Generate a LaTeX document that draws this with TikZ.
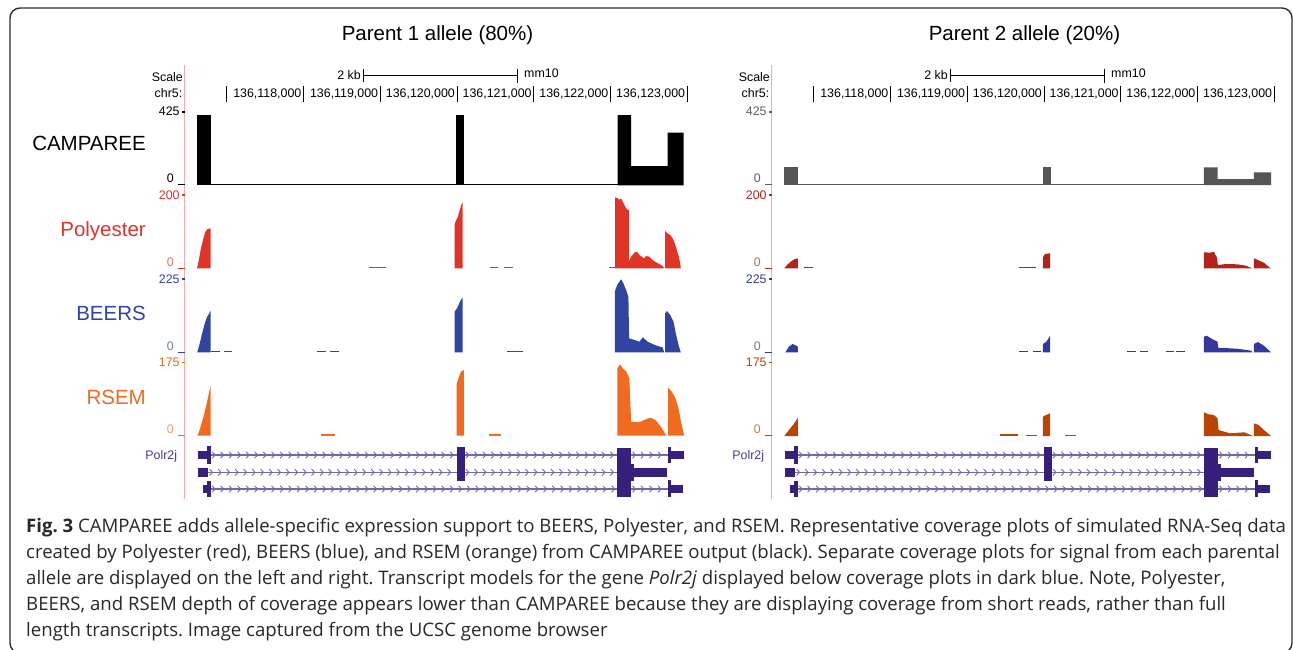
\documentclass[tikz,border=0pt]{standalone}
\usepackage{fontspec}
\setmainfont{Liberation Sans}
\newfontfamily\captionfont{Open Sans}
\usetikzlibrary{positioning,decorations.markings}
\definecolor{framegray}{RGB}{45,45,45}
\definecolor{pinkline}{RGB}{244,172,172}
\definecolor{campgray}{RGB}{85,85,85}
\definecolor{axisgray}{RGB}{95,95,95}
\definecolor{polyred}{RGB}{224,52,39}
\definecolor{polydark}{RGB}{178,36,26}
\definecolor{beersblue}{RGB}{47,69,160}
\definecolor{beersdark}{RGB}{51,57,154}
\definecolor{rsemorange}{RGB}{240,106,32}
\definecolor{rsemdark}{RGB}{184,70,0}
\definecolor{genepurple}{RGB}{55,32,124}
\definecolor{intronpurple}{RGB}{112,104,176}
\definecolor{genelabel}{RGB}{70,60,150}
\definecolor{captiongray}{RGB}{40,40,40}

\tikzset{
  ruler/.style={font=\fontsize{12.4}{14}\selectfont, inner sep=0pt},
  axislabel/.style={font=\fontsize{12.4}{14}\selectfont, inner sep=0pt, anchor=base east},
  tracklabel/.style={font=\fontsize{20.5}{24}\selectfont, inner sep=0pt, anchor=base east},
  paneltitle/.style={font=\fontsize{20.5}{24}\selectfont, inner sep=0pt, anchor=base},
  exon/.style={fill=genepurple},
  intron/.style={draw=intronpurple, line width=1.3pt,
    postaction={decorate, decoration={markings,
      mark=between positions 3pt and -2pt step 8.5pt with
        {\draw[intronpurple, line width=0.9pt] (-1.6,-3.2) -- (1.4,0) -- (-1.6,3.2);}}}},
}

% ruler, axes and gene models of one browser panel
\newcommand{\browserpanel}[6]{%
\begin{scope}[xshift=#2]
  \draw[pinkline, line width=1pt] (184.6,65) -- (184.6,499);
  \node[ruler, anchor=base east] (scale#1) at (183,81) {Scale};
  \node[ruler, anchor=base east] (chr#1) at (182.5,97.7) {chr5:};
  % scale bar
  \draw[line width=0.8pt] (363,75) -- (517.5,75);
  \draw[line width=0.8pt] (363,68.5) -- (363,82);
  \draw[line width=0.8pt] (517.5,68.5) -- (517.5,83);
  \node[ruler, anchor=base east] (kb#1) at (361,79.4) {2 kb};
  \node[ruler, anchor=base west] (mm#1) at (524,77.7) {mm10};
  % chromosome positions
  \foreach \i in {0,...,6}
    \draw[line width=0.8pt] ({226.8+76.75*\i},86) -- ({226.8+76.75*\i},101.7);
  \foreach \i in {1,...,6}{
    \pgfmathtruncatemacro{\kb}{117+\i}
    \node[ruler, anchor=base east] (pos\i#1) at ({226.8+76.75*\i-2},97.7) {136,\kb,000};
  }
  % axis labels
  \node[axislabel, text=#3] (campmax#1) at (179.8,115.9) {425};
  \draw[#3, line width=1.3pt] (182,112) -- (184.6,112);
  \node[axislabel, text=#3] (campmin#1) at (174,182.4) {0};
  \draw[#3, line width=1pt] (177.5,184) -- (184.6,184);
  \node[axislabel, text=#4] (polymax#1) at (179.8,199.4) {200};
  \draw[#4, line width=1.3pt] (182,195) -- (184.6,195);
  \node[axislabel, text=#4!70] (polymin#1) at (174,266.4) {0};
  \draw[#4, line width=1pt] (177.5,268.3) -- (184.6,268.3);
  \node[axislabel, text=#5] (beersmax#1) at (179.8,283.4) {225};
  \draw[#5, line width=1.3pt] (182,279) -- (184.6,279);
  \node[axislabel, text=#5!70] (beersmin#1) at (174,350.4) {0};
  \draw[#5, line width=1pt] (177.5,352.3) -- (184.6,352.3);
  \node[axislabel, text=#6] (rsemmax#1) at (179.8,366.9) {175};
  \draw[#6, line width=1.3pt] (182,362.5) -- (184.6,362.5);
  \node[axislabel, text=#6!70] (rsemmin#1) at (174,433.4) {0};
  \draw[#6, line width=1pt] (177.5,435.7) -- (184.6,435.7);
  % gene models
  \node[ruler, anchor=base east, text=genelabel] (gene#1) at (177.3,459.4) {Polr2j};
  \draw[intron] (210.7,455) -- (456.5,455);
  \draw[intron] (464.5,455) -- (617.3,455);
  \draw[intron] (631.1,455) -- (668.2,455);
  \draw[intron] (208.2,472.3) -- (456.5,472.3);
  \draw[intron] (464.5,472.3) -- (617.3,472.3);
  \draw[intron] (210.7,489) -- (617.3,489);
  \draw[intron] (631.1,489) -- (668.2,489);
  \fill[exon] (198.4,451) rectangle (208.2,459);
  \fill[exon] (207.1,445.7) rectangle (210.7,464.3);
  \fill[exon] (198.4,467.8) rectangle (208.2,476.8);
  \fill[exon] (202.7,485) rectangle (208.2,493);
  \fill[exon] (207.1,480.7) rectangle (210.7,497);
  \fill[exon] (456.5,446.7) rectangle (464.5,481);
  \fill[exon] (617.3,447.7) rectangle (631.1,496.7);
  \fill[exon] (631.1,463.5) rectangle (633.6,481);
  \fill[exon] (633.6,468.3) rectangle (666.7,476.7);
  \fill[exon] (668.2,446.7) rectangle (671.1,463.3);
  \fill[exon] (671.1,451) rectangle (684.2,459);
  \fill[exon] (668.2,480.3) rectangle (671.1,496.7);
  \fill[exon] (671.1,485) rectangle (682.7,493);
\end{scope}}

\begin{document}
\begin{tikzpicture}[x=1pt,y=-1pt]
\useasboundingbox (0,0) rectangle (1293,649);
\fill[white] (0,0) rectangle (1293,649);
\draw[framegray, line width=1.4pt, rounded corners=10pt] (10,8) rectangle (1292,653);

% panel titles
\node[paneltitle] (title1) at (437.5,40.5) {Parent 1 allele (80\%)};
\node[paneltitle] (title2) at (1024.5,40.5) {Parent 2 allele (20\%)};

% track names
\node[tracklabel] (campname) at (146,150.5) {CAMPAREE};
\node[tracklabel, text=polyred] (polyname) at (146,236.5) {Polyester};
\node[tracklabel, text=beersblue] (beersname) at (146,320.5) {BEERS};
\node[tracklabel, text=rsemorange] (rsemname) at (146,404.5) {RSEM};

\browserpanel{L}{0pt}{black}{polyred}{beersblue}{rsemorange}
\browserpanel{R}{587pt}{axisgray}{polydark}{beersdark}{rsemdark}

% parent 1: CAMPAREE
\fill[black] (197.1,185.3) rectangle (210.7,115);
\fill[black] (456.4,185.3) rectangle (463.9,115);
\fill[black] (617.5,185.3) -- (617.5,115) -- (631.1,115) -- (631.1,166) -- (667.5,166)
  -- (667.5,132.7) -- (683.6,132.7) -- (683.6,185.3) -- cycle;
\draw[black, line width=1.3pt] (210.7,184.3) -- (617.5,184.3);

% parent 1: Polyester
\fill[polyred] (197.2,268.3) -- (197.2,267.3) -- (198.9,260) -- (200.6,250) -- (202.2,243.3)
  -- (203.9,236.7) -- (205.5,231.7) -- (207.2,229.3) -- (210.5,228.3) -- (210.5,268.3) -- cycle;
\fill[polyred] (369,266.8) rectangle (385.6,268.3);
\fill[polyred] (454.6,268.3) -- (454.6,225) -- (455.9,220.7) -- (457.9,216.7) -- (459.6,210.7)
  -- (461.3,205) -- (462.6,202.3) -- (462.6,268.3) -- cycle;
\fill[polyred] (489.5,266.8) rectangle (498.4,268.3);
\fill[polyred] (504.4,266.8) rectangle (513.3,268.3);
\fill[polyred] (608.9,266.8) rectangle (615.2,268.3);
\fill[polyred] (615.2,268.3) -- (615.2,197.3) -- (617.8,198.3) -- (619.5,200) -- (621.1,198.3)
  -- (622.8,201.7) -- (624.4,205) -- (626.1,208.3) -- (627.8,210) -- (628.8,210) -- (628.8,261.7)
  -- (631.1,256.7) -- (634.4,252.7) -- (637,251.7) -- (639.4,255) -- (641.7,256.7) -- (644.3,258.3)
  -- (646,256) -- (649.3,256.7) -- (652.6,260) -- (655,261.7) -- (659.3,264) -- (662.6,266)
  -- (664.2,268.3) -- cycle;
\fill[polyred] (665.2,268.3) -- (665.2,231) -- (667.5,233.3) -- (670.2,235) -- (672.6,238.3)
  -- (674.8,243.3) -- (676.8,250) -- (678.8,256.7) -- (680.2,263.3) -- (680.8,268.3) -- cycle;

% parent 1: BEERS
\fill[beersblue] (197.2,352.3) -- (198.9,346.7) -- (200.6,340) -- (202.2,333.3) -- (203.9,326.7)
  -- (205.5,321) -- (207.2,316.7) -- (208.9,314) -- (210.5,311) -- (210.5,352.3) -- cycle;
\fill[beersblue] (210.5,350.8) rectangle (219.8,352.3);
\fill[beersblue] (224,350.8) rectangle (232.4,352.3);
\fill[beersblue] (317.3,350.8) rectangle (326.3,352.3);
\fill[beersblue] (330.2,350.8) rectangle (339.2,352.3);
\fill[beersblue] (506.7,350.8) rectangle (523.3,352.3);
\fill[beersblue] (454.6,352.3) -- (454.6,311.7) -- (457,308.3) -- (459.3,303.3) -- (461.3,299.3)
  -- (462.6,297.7) -- (462.6,352.3) -- cycle;
\fill[beersblue] (614.8,352.3) -- (614.8,291.7) -- (617.1,285) -- (619.5,281.7) -- (621.1,279.3)
  -- (623.4,283.3) -- (626.1,290) -- (628.4,296.7) -- (629.1,338.3) -- (634.4,340) -- (639.4,341.7)
  -- (642.7,337.3) -- (647.7,341.7) -- (652.6,344) -- (657.6,346) -- (662.6,347.3) -- (664.2,352.3) -- cycle;
\fill[beersblue] (665.2,352.3) -- (665.2,313.3) -- (666.9,311) -- (670.2,315) -- (673.5,321.7)
  -- (675.8,333.3) -- (678.5,345) -- (680.8,352.3) -- cycle;

% parent 1: RSEM
\fill[rsemorange] (197.3,435.7) -- (199.1,431.7) -- (201.6,423.3) -- (204.5,413.3) -- (207.1,401.7)
  -- (209.3,391.7) -- (210.7,386) -- (210.7,435.7) -- cycle;
\fill[rsemorange] (320.9,433.7) rectangle (334.7,435.7);
\fill[rsemorange] (456.5,435.7) -- (456.5,385) -- (458.4,378.3) -- (460.9,371.7) -- (463.8,370)
  -- (463.8,435.7) -- cycle;
\fill[rsemorange] (489.3,434.2) rectangle (500.9,435.7);
\fill[rsemorange] (617.3,435.7) -- (617.3,368.3) -- (620.2,364.3) -- (622.7,368.3) -- (626.4,371.7)
  -- (629.3,378.3) -- (631.1,421.7) -- (639.1,422.3) -- (646.4,419) -- (650.7,417.7) -- (655.5,420)
  -- (660.9,426.7) -- (666.4,435.7) -- cycle;
\fill[rsemorange] (668.2,435.7) -- (668.2,387.7) -- (671.8,391.7) -- (675.5,398.3) -- (678.5,408.3)
  -- (681,421.7) -- (684.2,435.7) -- cycle;

% parent 2: CAMPAREE
\fill[campgray] (784.3,185) rectangle (797.9,167.3);
\fill[campgray] (1042.9,185) rectangle (1051,167.3);
\fill[campgray] (1203.9,185) -- (1203.9,167.3) -- (1217.5,167.3) -- (1217.5,179) -- (1253.9,179)
  -- (1253.9,172.3) -- (1271,172.3) -- (1271,185) -- cycle;
\draw[campgray, line width=1.3pt] (797.9,184.3) -- (1203.9,184.3);

% parent 2: Polyester
\fill[polydark] (784.3,268.3) -- (787.1,265) -- (790.7,261.7) -- (794.3,259.3) -- (797.9,258.3)
  -- (797.9,268.3) -- cycle;
\fill[polydark] (804,266.8) rectangle (812.9,268.3);
\fill[polydark] (1018.6,266.8) rectangle (1036.1,268.3);
\fill[polydark] (1042.9,268.3) -- (1042.9,257.3) -- (1045,254) -- (1050,253.3) -- (1050,268.3) -- cycle;
\fill[polydark] (1203.9,268.3) -- (1203.9,252.3) -- (1210.4,252.7) -- (1213.9,251.7) -- (1216.8,257.3)
  -- (1217.9,265) -- (1226.4,264) -- (1237.1,264.3) -- (1246.1,265.7) -- (1252.1,268.3) -- cycle;
\fill[polydark] (1253.9,268.3) -- (1253.9,258.3) -- (1257.9,260) -- (1263.9,262.7) -- (1269.3,267.3)
  -- (1271,268.3) -- cycle;

% parent 2: BEERS
\fill[beersdark] (785.4,352.3) -- (788.9,346.7) -- (792.5,344) -- (795,345) -- (797.9,346.7)
  -- (797.9,352.3) -- cycle;
\fill[beersdark] (1018.6,350.8) rectangle (1028.2,352.3);
\fill[beersdark] (1032.5,350.8) rectangle (1040.7,352.3);
\fill[beersdark] (1042.9,352.3) -- (1042.9,344) -- (1046.4,341.7) -- (1050,336) -- (1050,352.3) -- cycle;
\fill[beersdark] (1127,350.8) rectangle (1136.4,352.3);
\fill[beersdark] (1140,350.8) rectangle (1147.9,352.3);
\fill[beersdark] (1166.4,350.8) rectangle (1173.9,352.3);
\fill[beersdark] (1176.4,350.8) rectangle (1184.6,352.3);
\fill[beersdark] (1203.9,352.3) -- (1203.9,336.7) -- (1206.8,335.7) -- (1212.1,339) -- (1217.5,341.7)
  -- (1218.2,347.7) -- (1237.1,348.7) -- (1251.4,350.7) -- (1252.1,352.3) -- cycle;
\fill[beersdark] (1253.9,352.3) -- (1253.9,344) -- (1257.9,342) -- (1263.9,345.7) -- (1269.3,350.7)
  -- (1271,352.3) -- cycle;

% parent 2: RSEM
\fill[rsemdark] (784.3,436) -- (788.9,430) -- (794.3,423.3) -- (797.9,417.7) -- (797.9,436) -- cycle;
\fill[rsemdark] (1000.4,434.3) rectangle (1017.5,436);
\fill[rsemdark] (1026.4,434.5) rectangle (1037.1,436);
\fill[rsemdark] (1042.9,436) -- (1042.9,416.7) -- (1046.1,415) -- (1050,413.3) -- (1050,436) -- cycle;
\fill[rsemdark] (1065,434.5) rectangle (1076.4,436);
\fill[rsemdark] (1203.9,436) -- (1203.9,412.3) -- (1208.6,414.3) -- (1213.9,415) -- (1217.5,418.3)
  -- (1218.6,430) -- (1230,433.3) -- (1244.3,432.3) -- (1253.2,436) -- cycle;
\fill[rsemdark] (1253.9,436) -- (1253.9,423.3) -- (1258.6,425) -- (1263.9,430) -- (1271,436) -- cycle;

% caption
\node[anchor=north west, inner sep=0pt, align=left, text=captiongray,
      font={\captionfont\fontsize{18.6}{26}\selectfont\frenchspacing}] (caption) at (26,518)
  {\textbf{Fig. 3} CAMPAREE adds allele-specific expression support to BEERS, Polyester, and RSEM. Representative coverage plots of simulated RNA-Seq data\\
   created by Polyester (red), BEERS (blue), and RSEM (orange) from CAMPAREE output (black). Separate coverage plots for signal from each parental\\
   allele are displayed on the left and right. Transcript models for the gene \textit{Polr2j} displayed below coverage plots in dark blue. Note, Polyester,\\
   BEERS, and RSEM depth of coverage appears lower than CAMPAREE because they are displaying coverage from short reads, rather than full\\
   length transcripts. Image captured from the UCSC genome browser};
\end{tikzpicture}
\end{document}
